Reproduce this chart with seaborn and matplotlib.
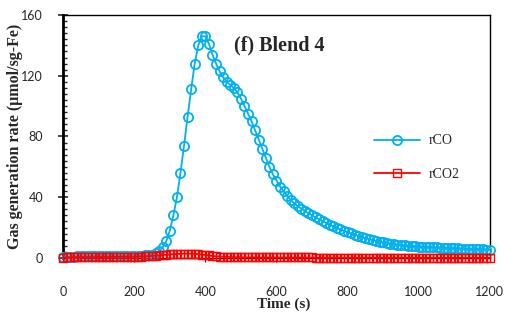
import numpy as np
import matplotlib
matplotlib.use("Agg")
import matplotlib.pyplot as plt
import seaborn as sns
from matplotlib.ticker import MultipleLocator

# ------------------------------
# Data (10 s steps)
# ------------------------------
time_s = list(range(0, 1201, 10))

r_co = [0.6, 0.7, 0.8, 0.9, 1.0, 1.0, 1.1, 1.1, 1.1, 1.2,
        1.2, 1.2, 1.2, 1.2, 1.3, 1.3, 1.3, 1.3, 1.3, 1.4,
        1.4, 1.4, 1.5, 1.6, 1.8, 2.2,
        3.0, 4.5, 7.0, 11.0, 18.0, 28.0, 40.0, 56.0, 74.0, 93.0,
        111.0, 128.0, 140.0, 146.0, 146.0, 141.0, 134.0, 128.0, 123.0, 119.0,
        116.0, 114.0, 112.0, 109.0, 105.0, 100.0, 95.0, 90.0, 84.0, 78.0,
        72.0, 66.0, 60.0, 55.0, 51.0, 47.0, 44.0, 41.0, 38.0, 36.0,
        34.0, 32.5, 31.0, 29.5, 28.0, 26.7, 25.5, 24.2, 23.0, 21.8,
        20.8, 19.8, 18.8, 17.8, 16.9, 16.1, 15.3, 14.5, 13.8, 13.1,
        12.4, 11.8, 11.2, 10.7, 10.2, 9.8, 9.4, 9.0, 8.7, 8.4,
        8.2, 8.0, 7.8, 7.6, 7.4, 7.3, 7.2, 7.1, 7.0, 6.9,
        6.8, 6.7, 6.6, 6.5, 6.4, 6.3, 6.2, 6.1, 6.0, 5.9,
        5.8, 5.7, 5.6, 5.5, 5.4]

r_co2 = [0.2, 0.3, 0.3, 0.4, 0.4, 0.5, 0.5, 0.5, 0.6, 0.6,
         0.6, 0.6, 0.6, 0.6, 0.7, 0.7, 0.7, 0.7, 0.7, 0.8,
         0.8, 0.8, 0.9, 1.0, 1.1, 1.3,
         1.5, 1.7, 1.9, 2.1, 2.3, 2.5, 2.6, 2.7, 2.8, 2.8,
         2.8, 2.7, 2.5, 2.2, 1.9, 1.6, 1.3, 1.1, 0.9, 0.8,
         0.7, 0.6, 0.5,
         0.5, 0.5, 0.4, 0.4, 0.4, 0.4, 0.3, 0.3, 0.3, 0.3, 0.3, 0.3,
         0.3, 0.3, 0.3, 0.3, 0.3, 0.3, 0.3, 0.3, 0.3, 0.3,
         0.2, 0.2, 0.2, 0.2, 0.2, 0.2, 0.2, 0.2, 0.2, 0.2,
         0.2, 0.2, 0.2, 0.2, 0.2, 0.2, 0.2, 0.2, 0.2, 0.2,
         0.2, 0.2, 0.2, 0.2, 0.2, 0.2, 0.2, 0.2, 0.2, 0.2,
         0.1, 0.1, 0.1, 0.1, 0.1, 0.1, 0.1, 0.1, 0.1, 0.1,
         0.1, 0.1, 0.1, 0.1, 0.1, 0.1, 0.1, 0.1, 0.1, 0.1]

x_ticks = [0, 200, 400, 600, 800, 1000, 1200]
y_ticks = [0, 40, 80, 120, 160]

# ------------------------------
# Style
# ------------------------------
sns.set_style("ticks")
plt.rcParams["font.family"] = ["Lato", "DejaVu Sans"]
serif = ["Liberation Serif", "DejaVu Serif"]

blue = "#00B0F0"
red = "#FF0000"

fig = plt.figure(figsize=(5.05, 3.2), dpi=100)
ax = fig.add_axes([0.125, 0.194, 0.845, 0.759])

sns.lineplot(x=time_s, y=r_co, ax=ax, color=blue, linewidth=1.3,
             marker="o", markersize=6.6, markerfacecolor="none",
             markeredgecolor=blue, markeredgewidth=1.3, label="rCO",
             clip_on=False, zorder=3)
sns.lineplot(x=time_s, y=r_co2, ax=ax, color=red, linewidth=1.3,
             marker="s", markersize=5.5, markerfacecolor="none",
             markeredgecolor=red, markeredgewidth=1.0, label="rCO2",
             clip_on=False, zorder=4)

ax.set_xlim(0, 1200)
ax.set_ylim(0, 160)
ax.set_xticks(x_ticks)
ax.set_yticks(y_ticks)
ax.yaxis.set_minor_locator(MultipleLocator(4))

ax.tick_params(axis="y", which="major", direction="inout", length=7, width=1.2,
               labelsize=9, pad=11)
ax.tick_params(axis="y", which="minor", direction="in", length=3, width=1.0)
ax.tick_params(axis="x", which="major", direction="out", length=3, width=0.8,
               labelsize=9, pad=17)

for side in ["top", "right", "bottom"]:
    ax.spines[side].set_visible(True)
    ax.spines[side].set_linewidth(1.0)
    ax.spines[side].set_color("black")
ax.spines["left"].set_linewidth(2.0)
ax.spines["left"].set_color("black")

ax.set_xlabel("Time (s)", fontsize=11, fontweight="bold", family=serif, labelpad=0)
ax.xaxis.label.set_x(0.516)
ax.set_ylabel("Gas generation rate (\u03bcmol/sg-Fe)", fontsize=11.5,
              fontweight="bold", family=serif, labelpad=-1)

ax.text(0.40, 0.875, "(f) Blend 4", transform=ax.transAxes, fontsize=14.5,
        fontweight="bold", family=serif, va="center", ha="left")

leg = ax.legend(loc="upper left", bbox_to_anchor=(0.70, 0.56), frameon=False,
                handlelength=3.3, labelspacing=1.5, handletextpad=0.6,
                prop={"family": serif, "size": 10})

plt.savefig("out.png", dpi=100)
plt.close()
